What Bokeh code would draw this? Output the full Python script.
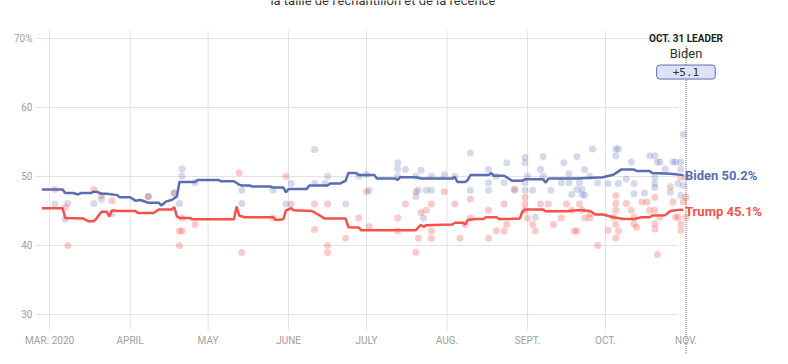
import pandas as pd
from bokeh.plotting import figure
from bokeh.models import Range1d, FixedTicker, Label
from bokeh.embed import file_html
from bokeh.resources import INLINE

# ---------------- data (days counted from 2020-03-01) ----------------
START = pd.Timestamp("2020-03-01")

biden_avg_day = [-3, 5, 6, 9, 11, 12, 16, 17, 18, 20, 22, 26, 27, 31, 33, 35, 38, 42, 43, 45, 47, 49, 50,
                 56, 57, 65, 66, 71, 73, 74, 77, 78, 85, 86, 90, 91, 92, 99, 100, 107, 108, 112, 114, 115,
                 118, 119, 125, 126, 133, 134, 135, 141, 143, 151, 155, 156, 157, 160, 161, 162, 169, 170,
                 171, 175, 178, 182, 183, 190, 191, 192, 203, 213, 217, 220, 225, 226, 231, 232, 239, 244]
biden_avg = [48.1, 48.1, 47.6, 47.6, 47.4, 47.6, 47.6, 47.8, 47.8, 47.5, 47.5, 47.3, 47.0, 47.0, 46.5, 46.6,
             46.2, 46.2, 45.8, 46.4, 46.6, 47.1, 49.2, 49.2, 49.5, 49.5, 49.3, 49.3, 48.8, 48.7, 48.7, 48.55,
             48.55, 48.4, 48.4, 47.7, 48.2, 48.2, 48.7, 48.7, 49.0, 49.0, 49.4, 50.5, 50.5, 50.2, 50.2, 49.7,
             49.7, 49.5, 49.9, 49.9, 49.7, 49.7, 49.7, 49.9, 49.2, 49.2, 49.5, 50.2, 50.2, 50.5, 50.1, 50.1,
             49.4, 49.4, 49.6, 49.6, 49.1, 49.7, 49.7, 49.9, 50.25, 51.0, 51.0, 50.8, 50.8, 50.5, 50.4, 50.2]

trump_avg_day = [-3, 5, 6, 13, 15, 17, 18, 20, 22, 23, 24, 26, 33, 34, 40, 42, 47, 48, 49, 50, 54, 55, 71,
                 72, 73, 75, 86, 87, 90, 91, 93, 94, 101, 104, 106, 114, 115, 119, 120, 141, 142, 143, 144,
                 145, 155, 156, 159, 160, 161, 164, 167, 168, 172, 173, 177, 181, 182, 183, 190, 191, 199,
                 203, 205, 208, 209, 210, 213, 217, 221, 225, 228, 231, 232, 237, 239, 243, 244]
trump_avg = [45.4, 45.4, 44.0, 43.9, 43.5, 43.5, 43.9, 44.9, 44.9, 44.2, 45.1, 45.0, 45.0, 44.7, 44.7, 45.2,
             45.2, 45.55, 44.2, 44.0, 44.0, 43.8, 43.8, 45.65, 44.35, 44.1, 44.1, 43.7, 43.8, 45.1, 45.4,
             45.1, 45.0, 44.35, 43.9, 43.9, 42.65, 42.6, 42.2, 42.2, 42.65, 43.0, 42.7, 42.95, 43.05, 43.3,
             43.3, 43.05, 43.7, 43.85, 43.85, 44.1, 44.1, 43.85, 43.85, 43.9, 44.9, 45.2, 45.2, 44.95,
             44.95, 45.1, 45.1, 45.0, 44.8, 44.5, 44.5, 44.1, 43.85, 43.85, 44.1, 44.1, 44.35, 44.4, 45.0,
             45.2, 45.1]

biden_poll_day = [2, 7, 6, 17, 20, 24, 38, 48, 51, 51, 50, 56, 74, 74, 86, 91, 93, 102, 102, 106, 107, 114,
                  119, 122, 123, 134, 134, 134, 137, 141, 142, 141, 143, 144, 145, 147, 147, 152, 156, 162,
                  162, 169, 169, 169, 172, 175, 176, 179, 183, 183, 184, 183, 183, 186, 187, 189, 190, 190,
                  193, 198, 197, 200, 200, 203, 201, 204, 203, 205, 205, 206, 208, 209, 211, 206, 218, 219,
                  218, 215, 219, 222, 224, 225, 225, 229, 231, 233, 234, 235, 233, 233, 233, 237, 239, 240,
                  241, 242, 243, 244, 243, 245, 244, 243]
biden_poll = [46.0, 46.1, 43.8, 46.1, 46.7, 44.6, 47.1, 47.6, 51.1, 50.05, 46.1, 49.1, 46.1, 48.0, 48.0,
              46.0, 49.0, 53.9, 49.0, 49.0, 50.05, 46.0, 50.05, 50.3, 48.0, 50.05, 52.0, 51.1, 51.0, 50.05,
              48.0, 47.1, 50.9, 44.0, 48.0, 50.05, 48.0, 50.25, 50.05, 48.0, 53.4, 51.0, 49.1, 48.0, 50.05,
              49.1, 52.0, 48.0, 52.8, 52.0, 50.05, 49.1, 48.0, 48.0, 44.1, 51.0, 52.9, 50.05, 48.0, 52.0,
              49.1, 49.1, 50.4, 52.9, 47.4, 49.1, 48.1, 48.1, 47.4, 51.0, 50.05, 54.0, 49.1, 47.25, 54.0,
              54.0, 53.0, 49.0, 49.0, 49.65, 52.1, 49.0, 47.5, 47.6, 53.0, 53.0, 52.1, 52.1, 49.9, 49.0,
              48.4, 51.1, 47.7, 52.1, 52.1, 49.0, 52.1, 56.1, 51.1, 49.9, 48.7, 47.25]

trump_poll_day = [2, 7, 6, 17, 20, 24, 38, 48, 50, 51, 50, 51, 56, 73, 74, 91, 93, 86, 102, 102, 107, 107,
                  107, 114, 119, 122, 123, 137, 134, 134, 141, 142, 141, 143, 145, 147, 147, 147, 152, 156,
                  158, 162, 162, 160, 169, 169, 172, 175, 175, 176, 179, 183, 183, 183, 184, 186, 187, 189,
                  192, 194, 197, 199, 201, 202, 203, 204, 205, 206, 208, 211, 208, 215, 218, 218, 218, 217,
                  218, 218, 219, 222, 224, 225, 225, 226, 228, 230, 231, 233, 233, 233, 234, 233, 235, 239,
                  240, 241, 242, 243, 243, 244, 245, 243, 245]
trump_poll = [48.1, 40.0, 45.55, 48.1, 47.2, 46.5, 47.1, 47.6, 42.1, 42.1, 40.0, 44.0, 43.05, 50.55, 39.0,
              50.05, 46.0, 44.0, 46.0, 42.3, 46.0, 40.0, 39.0, 41.05, 44.0, 47.8, 42.75, 46.0, 44.0, 42.1,
              47.8, 41.05, 39.0, 44.8, 45.1, 46.0, 42.1, 41.05, 47.8, 46.0, 41.05, 44.0, 46.75, 43.05, 45.1,
              41.05, 42.1, 46.0, 42.1, 43.05, 48.2, 47.0, 46.0, 45.1, 44.0, 43.05, 42.1, 46.0, 46.0, 43.05,
              44.0, 46.0, 45.1, 42.1, 42.1, 46.0, 45.1, 44.0, 44.0, 40.0, 44.6, 42.2, 47.25, 46.1, 45.1,
              44.1, 43.05, 41.1, 42.1, 46.1, 45.1, 44.1, 43.15, 42.65, 46.3, 46.3, 45.1, 47.0, 43.15, 42.4,
              38.7, 45.1, 44.1, 48.5, 46.3, 44.1, 44.1, 43.15, 42.2, 46.3, 47.0, 49.9, 44.1]

month_ticks = ["2020-03-01", "2020-04-01", "2020-05-01", "2020-06-01", "2020-07-01",
               "2020-08-01", "2020-09-01", "2020-10-01", "2020-11-01"]
month_labels = ["MAR. 2020", "APRIL", "MAY", "JUNE", "JULY", "AUG.", "SEPT.", "OCT.", "NOV."]
y_ticks = [30, 40, 50, 60, 70]
y_labels = ["30", "40", "50", "60", "70%"]
leader_label = "OCT. 31 LEADER"
leader_name = "Biden"
title_text = "la taille de l’échantillon et de la récence"

# ---------------- styles ----------------
BLUE = "#5a6db2"
RED = "#f5514a"
GRID = "#e3e3e3"
TICK_FONT = "Roboto"


def to_dt(days):
    return START + pd.to_timedelta(pd.Series(days, dtype=float), unit="D")


def ms(ts):
    return float(pd.Timestamp(ts).value // 10**6)


x_start = START + pd.Timedelta(days=-5.43)
x_end = START + pd.Timedelta(days=283.7)
y_start, y_end = 23.91, 75.51     # frame spans the page from y=356 (bottom) to y=0 (top)
grid_bottom, grid_top = 27.68, 71.16   # extent of the month gridlines

p = figure(width=788, height=364, x_axis_type="datetime",
           x_range=Range1d(ms(x_start), ms(x_end)), y_range=Range1d(y_start, y_end),
           output_backend="svg", toolbar_location=None,
           min_border_left=35, min_border_right=2, min_border_top=0, min_border_bottom=8)
p.outline_line_color = None
p.xgrid.visible = False
p.ygrid.visible = False
p.background_fill_color = "white"

# grid lines
grid_end = START + pd.Timedelta(days=241.9)
p.segment(x0=[ms(x_start)] * len(y_ticks), x1=[ms(grid_end)] * len(y_ticks), y0=y_ticks, y1=y_ticks,
          line_color=GRID, line_width=1)
vt = [ms(t) for t in month_ticks[:-1]]
p.segment(x0=vt, x1=vt, y0=[grid_bottom] * len(vt), y1=[grid_top] * len(vt), line_color=GRID, line_width=1)

# leader line
nov = ms(month_ticks[-1])
p.segment(x0=[nov], x1=[nov], y0=[68.9], y1=[24.3], line_color="#666666", line_width=1,
          line_dash="1 1")

# poll dots
p.scatter(to_dt(trump_poll_day), trump_poll, size=7, fill_color=RED, fill_alpha=0.3, line_color=None)
p.scatter(to_dt(biden_poll_day), biden_poll, size=7, fill_color=BLUE, fill_alpha=0.26, line_color=None)

# averages
p.line(to_dt(trump_avg_day), trump_avg, line_color=RED, line_width=2.5)
p.line(to_dt(biden_avg_day), biden_avg, line_color=BLUE, line_width=2.5)

# axes
p.xaxis.ticker = FixedTicker(ticks=[ms(t) for t in month_ticks])
p.xaxis.major_label_overrides = {ms(t): l for t, l in zip(month_ticks, month_labels)}
p.yaxis.ticker = FixedTicker(ticks=y_ticks)
p.yaxis.major_label_overrides = {t: l for t, l in zip(y_ticks, y_labels)}
for ax in (p.xaxis[0], p.yaxis[0]):
    ax.axis_line_color = None
    ax.major_tick_line_color = None
    ax.minor_tick_line_color = None
    ax.major_tick_out = 0
    ax.major_tick_in = 0
    ax.major_label_text_color = "#a0a0a0"
    ax.major_label_text_font = TICK_FONT
    ax.major_label_text_font_size = "10px"
p.xaxis.major_label_standoff = -22
p.yaxis.major_label_standoff = 3

# end labels
p.add_layout(Label(x=nov, y=biden_avg[-1], x_offset=-1, text=f"Biden {biden_avg[-1]:.1f}%",
                   text_color=BLUE, text_font="Roboto", text_font_style="bold",
                   text_font_size="13px", text_baseline="middle", text_align="left"))
p.add_layout(Label(x=nov, y=trump_avg[-1], x_offset=-1, y_offset=-1, text=f"Trump {trump_avg[-1]:.1f}%",
                   text_color=RED, text_font="Roboto", text_font_style="bold",
                   text_font_size="13px", text_baseline="middle", text_align="left"))

# leader box
p.add_layout(Label(x=nov, y=70.0, text=leader_label, text_color="#222222", text_font="Roboto",
                   text_font_style="bold", text_font_size="10px", text_align="center",
                   text_baseline="middle"))
p.add_layout(Label(x=nov, y=67.83, text=leader_name, text_color="#333333", text_font="Roboto",
                   text_font_size="13px", text_align="center", text_baseline="middle"))
p.add_layout(Label(x=nov, y=65.14, text=f"+{biden_avg[-1] - trump_avg[-1]:.1f}", text_color="#333333",
                   text_font="DejaVu Sans Mono", text_font_size="11px", text_align="center",
                   text_baseline="middle", background_fill_color="#dde3f4", border_line_color=BLUE,
                   border_line_width=1, padding=[16, 3], border_radius=3))

# title, cut by the top edge as in the reference
p.add_layout(Label(x=ms(START + pd.Timedelta(days=128.3)), y=74.71, y_offset=6, text=title_text,
                   text_color="#333333", text_font="Roboto", text_font_size="13px", text_align="center",
                   text_baseline="alphabetic"))

open("out.html", "w").write(file_html(p, INLINE))
